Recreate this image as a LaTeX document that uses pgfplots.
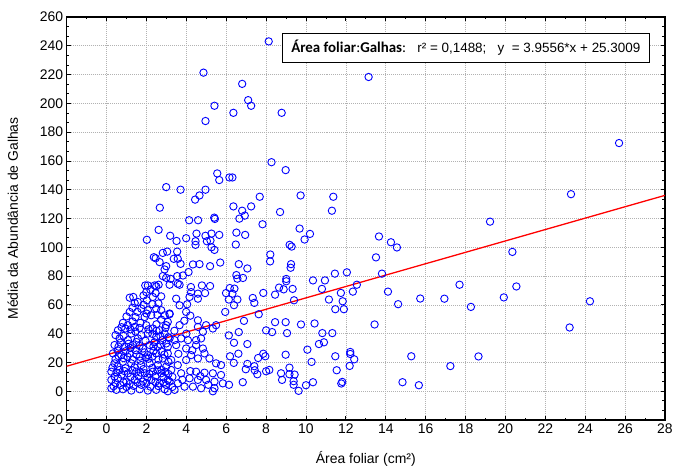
\documentclass[border=0pt]{standalone}
\usepackage{fontspec}
\setmainfont{Liberation Sans}
\newfontfamily\carlito{Carlito}
\usepackage{pgfplots}
\pgfplotsset{compat=1.18}
\usepackage{pgfplotstable}

\pgfplotstableread{
x y
4.86 221.3
8.13 243.0
13.14 218.3
6.80 213.5
5.41 198.3
7.10 202.2
7.25 198.3
6.36 193.4
4.96 187.7
8.78 193.4
8.27 159.1
8.98 153.6
5.55 151.3
5.65 146.7
6.16 148.5
6.31 148.5
2.99 141.8
3.71 140.0
4.96 140.0
4.44 133.1
4.66 136.0
7.68 135.1
2.67 127.5
6.36 128.4
6.80 125.4
7.25 128.4
6.93 122.0
8.70 124.5
6.66 119.9
5.40 120.6
5.43 119.7
4.14 118.8
4.59 118.8
7.82 116.0
2.61 112.1
6.51 110.2
6.95 108.6
3.19 108.0
4.51 109.5
4.96 108.0
5.26 109.5
5.65 108.6
3.99 106.3
2.02 105.2
9.73 136.0
11.37 135.1
11.30 125.4
9.68 113.0
10.20 109.3
9.93 105.4
9.18 101.7
9.28 100.5
13.66 107.5
14.26 103.5
14.56 99.9
13.51 93.0
8.21 95.0
8.20 90.2
9.25 88.3
9.23 85.8
6.63 88.3
7.06 85.3
6.51 80.7
6.84 78.7
6.56 78.2
6.18 71.7
6.41 71.3
6.31 67.8
6.13 63.7
6.56 63.7
6.39 59.8
7.33 64.8
7.41 61.4
7.86 68.3
8.45 67.1
8.65 72.0
8.88 70.8
9.01 78.0
9.01 76.4
9.33 71.1
9.40 63.2
10.35 77.0
10.95 77.0
10.80 71.1
11.45 81.7
12.05 82.6
11.75 68.3
11.15 63.7
11.84 62.5
11.47 57.0
11.90 57.0
12.55 74.0
12.35 69.2
13.81 81.7
14.11 69.2
14.62 60.5
15.73 64.4
7.63 53.5
6.89 48.9
8.45 48.0
8.98 48.0
9.75 46.4
10.43 47.1
13.44 46.4
6.63 41.1
6.13 38.8
8.00 42.3
8.30 41.1
9.05 40.4
10.82 40.4
11.32 40.4
6.39 33.7
7.06 32.8
10.65 32.8
10.90 34.0
10.07 28.9
6.19 24.3
6.61 26.1
7.86 26.1
7.60 23.1
7.96 24.3
8.98 25.4
11.47 24.3
12.22 27.3
12.22 25.9
12.42 22.2
10.28 20.4
6.38 19.7
7.06 19.0
7.41 17.4
6.98 15.3
7.43 14.6
7.56 11.8
8.00 13.9
8.16 14.8
9.17 16.4
8.75 12.5
9.17 11.8
9.43 11.6
8.80 7.9
9.38 7.0
9.38 4.5
9.63 0.3
10.00 4.2
10.35 6.3
11.54 14.6
12.19 17.6
11.82 6.5
11.77 5.4
6.83 6.3
6.14 4.5
15.28 24.3
14.84 6.3
15.66 4.2
16.94 64.3
17.70 74.0
18.27 58.6
17.24 17.5
18.65 24.2
19.23 117.8
19.92 65.2
20.35 96.8
20.55 72.8
23.29 136.9
23.22 44.3
24.24 62.5
25.70 172.4
2.37 93.1
2.46 92.4
2.82 96.1
3.04 97.0
2.66 89.7
2.91 84.6
2.82 80.0
2.99 78.8
1.94 73.5
2.41 73.5
2.61 74.0
3.51 104.4
4.46 104.2
4.46 101.7
5.03 104.2
5.21 104.7
5.26 100.0
5.41 98.2
6.48 101.9
3.54 97.0
3.37 92.0
3.57 92.0
3.71 88.5
2.99 86.9
4.33 88.1
4.66 88.3
5.19 86.9
5.70 89.4
3.21 78.1
3.54 80.0
3.66 74.0
3.83 80.4
4.11 82.8
3.16 74.0
4.78 73.5
5.19 73.1
4.23 72.4
2.07 73.5
2.49 72.9
1.99 68.9
2.46 68.2
1.16 65.0
1.34 65.5
1.57 62.0
2.02 63.2
2.32 65.5
2.74 65.9
1.41 61.3
1.74 57.4
2.07 56.3
2.49 57.4
2.74 56.3
2.91 52.8
3.16 53.5
1.16 55.1
1.55 55.1
1.91 51.6
2.24 52.8
2.74 49.8
3.07 48.2
0.82 47.5
1.07 45.9
1.41 44.7
1.99 45.9
2.32 43.6
2.66 42.4
0.57 42.4
0.94 43.6
1.24 40.1
1.74 39.0
2.07 40.1
2.49 37.8
2.91 40.1
0.65 36.7
1.07 35.5
1.57 36.7
0.40 32.1
0.90 30.9
1.32 32.1
1.82 29.7
2.16 32.1
2.57 30.9
2.99 33.2
3.07 26.3
0.32 26.3
0.74 25.1
1.16 26.3
1.66 24.0
2.07 25.1
2.49 26.3
2.82 22.8
0.40 19.4
0.82 20.5
1.24 19.4
1.74 18.2
2.16 19.4
2.57 18.2
2.99 17.1
0.24 13.6
0.65 14.8
1.07 12.5
1.49 13.6
1.91 12.5
2.32 13.6
2.74 12.5
0.24 7.9
0.57 9.0
0.99 6.7
1.41 7.9
1.82 6.7
2.24 7.9
2.66 5.5
3.07 7.9
0.24 2.1
0.49 1.0
0.82 1.4
1.24 0.5
1.66 1.4
2.07 0.5
2.49 1.0
2.91 1.4
0.35 3.5
0.70 4.2
1.00 3.0
1.35 3.8
1.75 4.5
2.20 3.2
2.60 3.6
3.00 4.4
0.40 10.2
0.75 11.5
1.20 10.0
1.60 10.8
2.05 9.6
2.45 10.4
2.85 9.8
0.30 16.5
0.55 17.2
0.95 16.0
1.40 16.6
1.85 15.4
2.30 16.2
2.75 15.0
3.10 12.0
0.45 22.5
0.85 23.0
1.30 22.0
1.70 21.2
2.10 22.6
2.60 22.0
3.10 20.5
0.55 28.4
0.95 27.8
1.45 28.6
1.90 27.0
2.35 28.0
2.75 27.6
0.70 33.8
1.10 33.0
1.50 34.2
1.95 35.0
2.40 34.0
2.80 35.5
0.45 39.0
0.85 38.5
1.45 41.5
2.30 39.8
2.70 38.2
3.10 37.5
1.30 48.5
1.70 47.5
2.50 46.5
2.95 44.0
1.30 58.0
1.85 60.0
2.30 60.5
2.60 61.0
1.85 66.5
2.20 70.5
3.57 74.7
4.24 68.9
4.58 67.8
4.94 68.2
4.16 65.5
4.58 64.3
5.99 68.2
3.49 64.3
3.66 59.7
4.04 60.4
3.99 55.1
5.95 55.1
3.16 54.0
2.99 45.9
3.66 45.9
4.58 49.3
4.99 45.9
5.49 45.9
5.33 43.6
4.58 44.7
4.83 41.3
3.16 36.7
3.41 35.5
3.74 36.7
4.08 35.5
4.49 35.5
4.74 36.7
3.07 30.9
3.49 32.1
3.99 29.7
4.49 32.1
4.83 29.7
4.91 26.3
5.16 22.8
5.49 19.4
5.74 18.2
4.24 25.1
4.58 22.8
3.99 21.7
3.24 21.7
3.57 18.2
3.24 14.8
3.74 12.5
4.49 13.6
4.91 12.9
5.33 12.5
5.74 11.3
4.16 9.0
4.58 7.9
4.99 7.9
5.41 6.7
5.83 5.5
3.16 6.7
3.57 5.5
3.91 3.2
4.33 3.2
4.74 2.1
5.41 2.1
5.33 0.0
3.41 1.0
3.07 0.0
0.45 5.8
0.85 6.2
1.15 5.0
1.55 6.0
2.00 5.8
2.45 6.5
2.85 6.0
3.30 3.0
0.50 13.0
0.90 14.0
1.30 14.5
1.70 13.0
2.15 12.0
2.55 14.5
2.95 13.5
0.60 24.5
1.05 24.0
1.50 25.5
1.95 23.5
2.30 24.2
2.90 25.5
0.60 31.0
1.20 30.0
1.65 31.5
2.35 31.2
2.70 32.5
0.75 44.5
1.20 43.0
1.65 44.0
2.10 43.0
2.50 42.0
1.00 52.0
1.45 51.5
2.00 54.0
2.55 53.0
3.30 10.0
3.80 8.0
4.20 14.0
4.70 10.5
5.10 4.5
3.60 26.0
4.30 28.5
4.00 40.0
3.40 42.0
3.90 49.0
4.20 52.5
}\datatable

\begin{document}
\begin{tikzpicture}
\begin{axis}[
  scale only axis, width=601pt, height=405pt,
  at={(0,0)}, anchor=south west,
  xmin=-2, xmax=28, ymin=-20, ymax=260,
  xtick={-2,0,...,28}, ytick={-20,0,...,260},
  minor x tick num=1, minor y tick num=2,
  tick align=inside,
  major tick length=4pt, minor tick length=2.5pt,
  xmajorgrids, ymajorgrids,
  major grid style={draw=gray!60, dash pattern=on 1pt off 1pt, line width=0.6pt},
  axis line style={line width=1.3pt},
  tick style={black, line width=0.8pt},
  /pgf/number format/assume math mode=true,
  ticklabel style={font=\fontsize{14}{16}\selectfont},
  xlabel={Área foliar (cm²)},
  ylabel={Média da Abundância de Galhas},
  label style={font=\fontsize{14}{16}\selectfont},
  x label style={at={(axis description cs:0.5,-0.096)}, anchor=center},
  y label style={at={(axis description cs:-0.09,0.5)}, anchor=center},
  clip=false,
]
\addplot[only marks, mark=o, mark size=3.7pt, mark options={draw=blue, line width=0.9pt}] table[x=x, y=y] {\datatable};
\addplot[red, line width=1.3pt] coordinates {(-2,17.39) (28,136.06)};
\node[draw=black, line width=1pt, fill=white, anchor=north west, minimum width=369pt, minimum height=29pt, inner sep=0pt, font=\fontsize{13.5}{15}\selectfont] at (axis cs:8.78,248.8) {{\carlito\fontsize{15}{17}\selectfont\bfseries Área foliar}{\carlito\fontsize{15}{17}\selectfont :}{\carlito\fontsize{15}{17}\selectfont\bfseries Galhas}{\carlito\fontsize{15}{17}\selectfont :}\ \ \ r² = 0,1488;\ \ \ y\ \ = 3.9556*x + 25.3009};
\end{axis}
\path (-67pt,-50pt) rectangle (609pt,422pt);
\end{tikzpicture}
\end{document}
